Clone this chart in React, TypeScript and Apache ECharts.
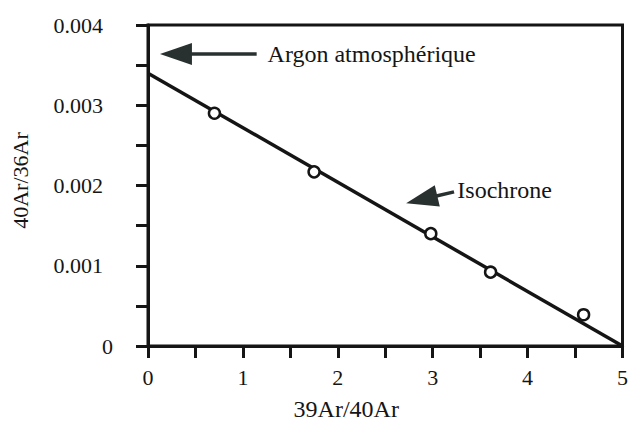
import React, { useEffect, useRef } from "react";
import * as echarts from "echarts";

const isoX = [0.7, 1.75, 2.98, 3.61, 4.59];
const isoY = [0.0029, 0.00217, 0.0014, 0.00092, 0.00039];
const fitX = [0, 5];
const fitY = [0.0034, 0];
const xTicks = [0, 1, 2, 3, 4, 5];
const yTicks = [0, 0.001, 0.002, 0.003, 0.004];
const xTitle = "39Ar/40Ar";
const yTitle = "40Ar/36Ar";
const noteArgon = "Argon atmosphérique";
const noteIso = "Isochrone";
// annotation anchors in data coordinates: [tipX, tipY, tailX, tailY, textX, textY]
const argonArrow = [0.126, 0.00364, 1.145, 0.00364, 1.26, 0.00364];
const isoArrow = [2.72, 0.00178, 3.225, 0.00192, 3.26, 0.00194];

const FONT = '"Liberation Serif", "Times New Roman", serif';
const INK = "#151515";
const ARROW = "#283030";

export default function App() {
  const ref = useRef<HTMLDivElement>(null);
  useEffect(() => {
    if (!ref.current) return;
    const chart = echarts.init(ref.current, null, { renderer: "svg" });
    const axisCommon = {
      axisLine: { show: true, onZero: false, lineStyle: { color: INK, width: 3 } },
      axisTick: { show: true, inside: false, length: 12, lineStyle: { color: INK, width: 3 } },
      minorTick: { show: true, splitNumber: 2, length: 12, lineStyle: { color: INK, width: 3 } },
      splitLine: { show: false },
      minorSplitLine: { show: false },
    };
    chart.setOption({
      animation: false,
      backgroundColor: "#ffffff",
      grid: {
        left: 148,
        right: 7,
        top: 25,
        bottom: 82,
        show: true,
        borderColor: INK,
        borderWidth: 3,
        backgroundColor: "transparent",
      },
      xAxis: {
        type: "value",
        min: xTicks[0],
        max: xTicks[xTicks.length - 1],
        interval: 1,
        ...axisCommon,
        axisLabel: { margin: 20, fontFamily: FONT, fontSize: 22, color: INK },
        name: xTitle,
        nameLocation: "middle",
        nameGap: 51,
        nameTextStyle: { fontFamily: FONT, fontSize: 24, color: INK, padding: [0, 78, 0, 0] },
      },
      yAxis: {
        type: "value",
        min: yTicks[0],
        max: yTicks[yTicks.length - 1],
        interval: 0.001,
        ...axisCommon,
        axisLabel: {
          margin: 35,
          fontFamily: FONT,
          fontSize: 22,
          color: INK,
          formatter: (v: number) => (v === 0 ? "{z|0}" : "{n|" + v.toFixed(3) + "}"),
          rich: {
            n: { fontFamily: FONT, fontSize: 22, color: INK, padding: [0, 10, 0, 0] },
            z: { fontFamily: FONT, fontSize: 22, color: INK },
          },
        },
        name: yTitle,
        nameLocation: "middle",
        nameGap: 117,
        nameRotate: 90,
        nameTextStyle: { fontFamily: FONT, fontSize: 22, color: INK, padding: [0, 0, 0, 10] },
      },
      series: [
        {
          type: "line",
          data: fitX.map((x, i) => [x, fitY[i]]),
          showSymbol: false,
          symbol: "none",
          lineStyle: { color: INK, width: 3.5 },
          z: 2,
        },
        {
          type: "scatter",
          data: isoX.map((x, i) => [x, isoY[i]]),
          symbol: "circle",
          symbolSize: 11,
          itemStyle: { color: "#ffffff", borderColor: INK, borderWidth: 2.5, opacity: 1 },
          z: 3,
        },
      ],
    });

    const arrow = (a: number[], label: string, id: string) => {
      const tip = chart.convertToPixel({ gridIndex: 0 }, [a[0], a[1]]) as number[];
      const tail = chart.convertToPixel({ gridIndex: 0 }, [a[2], a[3]]) as number[];
      const txt = chart.convertToPixel({ gridIndex: 0 }, [a[4], a[5]]) as number[];
      const dx = tail[0] - tip[0];
      const dy = tail[1] - tip[1];
      const len = Math.hypot(dx, dy);
      const ux = dx / len;
      const uy = dy / len;
      const headLen = 32;
      const half = 11;
      const bx = tip[0] + ux * headLen;
      const by = tip[1] + uy * headLen;
      return [
        {
          type: "polygon",
          id: id + "-head",
          shape: {
            points: [
              [tip[0], tip[1]],
              [bx - uy * half, by + ux * half],
              [bx + uy * half, by - ux * half],
            ],
          },
          style: { fill: ARROW },
          z: 10,
        },
        {
          type: "line",
          id: id + "-shaft",
          shape: { x1: bx - ux * 2, y1: by - uy * 2, x2: tail[0], y2: tail[1] },
          style: { stroke: ARROW, lineWidth: 3.5 },
          z: 10,
        },
        {
          type: "text",
          id: id + "-text",
          x: txt[0],
          y: txt[1],
          style: {
            text: label,
            fontFamily: FONT,
            fontSize: 24,
            fill: INK,
            align: "left",
            verticalAlign: "middle",
          },
          z: 10,
        },
      ];
    };

    chart.setOption({
      graphic: [...arrow(argonArrow, noteArgon, "argon"), ...arrow(isoArrow, noteIso, "iso")],
    });

    return () => chart.dispose();
  }, []);

  return (
    <div
      ref={ref}
      style={{ position: "fixed", left: 0, top: 0, width: 631, height: 428, background: "#fff" }}
    />
  );
}
